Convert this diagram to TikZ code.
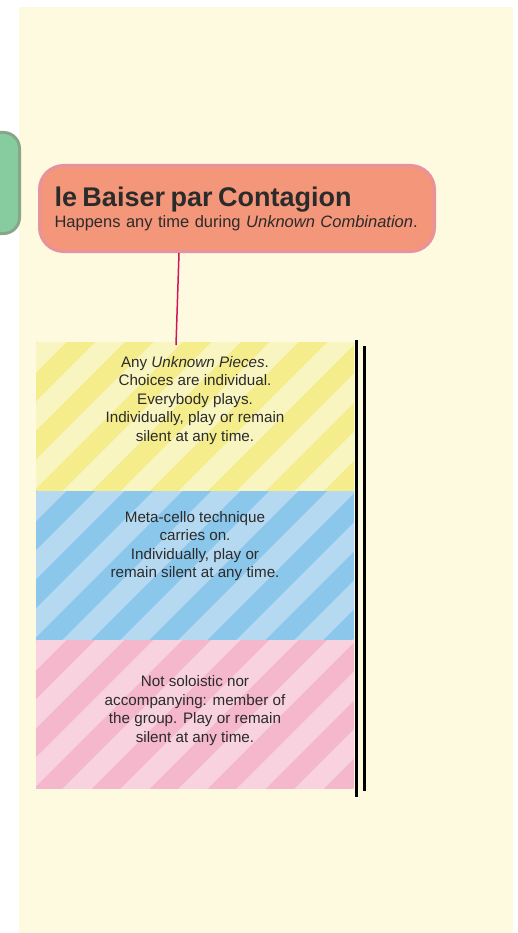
\documentclass[tikz,border=0pt]{standalone}
\usepackage{fontspec}
\setmainfont{Liberation Sans}
\usetikzlibrary{positioning}
\definecolor{bgcream}{HTML}{FEFADF}
\definecolor{greenfill}{HTML}{86CC9F}
\definecolor{greenline}{HTML}{87A68A}
\definecolor{titlefill}{HTML}{F4967A}
\definecolor{titleline}{HTML}{E8929E}
\definecolor{linkline}{HTML}{D4145A}
\definecolor{inktext}{HTML}{2B2B2B}
\definecolor{yellowlight}{HTML}{F8F5C0}
\definecolor{yellowdark}{HTML}{F5ED8C}
\definecolor{bluelight}{HTML}{B5D9F1}
\definecolor{bluedark}{HTML}{8BC6EB}
\definecolor{pinklight}{HTML}{F8D3DF}
\definecolor{pinkdark}{HTML}{F4B7CC}

\begin{document}
\begin{tikzpicture}[x=1pt,y=-1pt,
  prevnode/.style={draw=greenline,line width=3pt,fill=greenfill,rounded corners=16pt,
    minimum width=80pt,minimum height=101pt},
  titlenode/.style={draw=titleline,line width=3pt,fill=titlefill,rounded corners=24pt,
    minimum width=395pt,minimum height=86pt,text width=365pt,align=left,inner sep=0pt,
    text=inktext,font=\fontsize{16.5}{21}\selectfont},
  band/.style 2 args={fill=#1,minimum width=318pt,minimum height=148.5pt,inner sep=0pt,
    path picture={
      \foreach \k in {-7,...,7}
        \fill[#2] ([xshift=\k*58pt]path picture bounding box.center)
          ++(-75,75) -- ++(150,-150) -- ++(29,0) -- ++(-150,150) -- cycle;
    }},
  bandtext/.style={align=center,text=inktext,font=\fontsize{15.2}{18.5}\selectfont},
  link/.style={draw=linkline,line width=1.5pt},
  barline/.style={draw=black,line width=3pt}]
	  \useasboundingbox (0,0) rectangle (518,933);
	  \fill[bgcream] (19,7) rectangle (513,933);
	  \node[prevnode] (combination) at (-20.5,183) {};
	  \node[titlenode] (contagion) at (237,208.5)
	    {{\fontsize{27}{30}\selectfont\bfseries le Baiser par Contagion}\\
	     Happens any time during \textit{Unknown Combination}.};
	  \node[band={yellowdark}{yellowlight}] (pieces) at (195,416.5) {};
	  \node[band={bluedark}{bluelight}] (cello) [below=0pt of pieces] {};
	  \node[band={pinkdark}{pinklight}] (group) [below=0pt of cello] {};
	  \node[bandtext] (piecestext) at ([yshift=16]pieces.center)
	    {Any \textit{Unknown Pieces}.\\Choices are individual.\\Everybody plays.\\
	     Individually, play or remain\\silent at any time.};
	  \node[bandtext] (cellotext) at ([yshift=19.5]cello.center)
	    {Meta-cello technique\\carries on.\\Individually, play or\\remain silent at any time.};
	  \node[bandtext] (grouptext) at ([yshift=3.5]group.center)
	    {Not soloistic nor\\accompanying: member of\\the group. Play or remain\\silent at any time.};
	  \path[link]
(contagion.south) ++(-58,0) coordinate (linkstart)
(linkstart) edge ([xshift=-19,yshift=-3]pieces.north)
;
	  \draw[barline] ([xshift=2,yshift=2]pieces.north east) -- ([xshift=2,yshift=-8]group.south east);
	  \draw[barline] ([xshift=10,yshift=-4]pieces.north east) -- ([xshift=10,yshift=-2]group.south east);
	\end{tikzpicture}
\end{document}
